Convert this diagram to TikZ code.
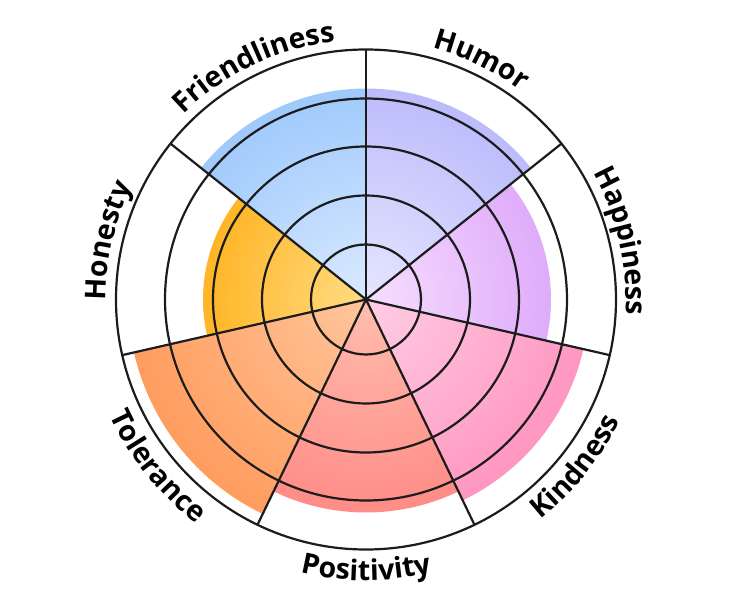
\documentclass[tikz,border=0pt]{standalone}
\usepackage{fontspec}
\setmainfont{Open Sans}
\usepackage{tikz}
\usetikzlibrary{decorations.text}
\usepackage{xcolor}

\definecolor{humorin}{HTML}{E6E6FF}
\definecolor{humorout}{HTML}{ABABFA}
\definecolor{friendin}{HTML}{DAEAFF}
\definecolor{friendout}{HTML}{88BCFB}
\definecolor{honestin}{HTML}{FFDC84}
\definecolor{honestout}{HTML}{FFA600}
\definecolor{tolerin}{HTML}{FFC69C}
\definecolor{tolerout}{HTML}{FF8C46}
\definecolor{positin}{HTML}{FFBEAE}
\definecolor{positout}{HTML}{FF7878}
\definecolor{kindin}{HTML}{FFCEE4}
\definecolor{kindout}{HTML}{FF80B2}
\definecolor{happyin}{HTML}{F7DEFF}
\definecolor{happyout}{HTML}{D598F8}
\definecolor{wheelline}{HTML}{1C1C1C}

\newcommand{\wheelfont}{\fontsize{28.5}{30}\selectfont\bfseries}

\begin{document}
\begin{tikzpicture}[x=1pt,y=1pt,
  ring/.style={wheelline, line width=2.2pt},
  spoke/.style={wheelline, line width=2.2pt},
  toplabel/.style={decorate, decoration={text along path, text align=center}},
]
\useasboundingbox (-366,-300.5) rectangle (366,299.5);

% sectors
\begin{scope}
\clip (0,0) -- (38.571:211) arc[start angle=38.571, end angle=90, radius=211] -- cycle;
\shade[inner color=humorin, outer color=humorout] (0,0) circle (295);
\end{scope}
\begin{scope}
\clip (0,0) -- (90:211) arc[start angle=90, end angle=141.429, radius=211] -- cycle;
\shade[inner color=friendin, outer color=friendout] (0,0) circle (295);
\end{scope}
\begin{scope}
\clip (0,0) -- (141.429:163) arc[start angle=141.429, end angle=192.857, radius=163] -- cycle;
\shade[inner color=honestin, outer color=honestout] (0,0) circle (228);
\end{scope}
\begin{scope}
\clip (0,0) -- (192.857:238) arc[start angle=192.857, end angle=244.286, radius=238] -- cycle;
\shade[inner color=tolerin, outer color=tolerout] (0,0) circle (333);
\end{scope}
\begin{scope}
\clip (0,0) -- (244.286:213) arc[start angle=244.286, end angle=295.714, radius=213] -- cycle;
\shade[inner color=positin, outer color=positout] (0,0) circle (298);
\end{scope}
\begin{scope}
\clip (0,0) -- (295.714:223) arc[start angle=295.714, end angle=347.143, radius=223] -- cycle;
\shade[inner color=kindin, outer color=kindout] (0,0) circle (312);
\end{scope}
\begin{scope}
\clip (0,0) -- (-12.857:185) arc[start angle=-12.857, end angle=38.571, radius=185] -- cycle;
\shade[inner color=happyin, outer color=happyout] (0,0) circle (259);
\end{scope}

% rings
\draw[ring] (0,0) circle (55);
\draw[ring] (0,0) circle (104);
\draw[ring] (0,0) circle (153);
\draw[ring] (0,0) circle (201);
\draw[ring] (0,0) circle (250);

% spokes
\draw[spoke] (0,0) -- (90:250);
\draw[spoke] (0,0) -- (38.571:250);
\draw[spoke] (0,0) -- (-12.857:250);
\draw[spoke] (0,0) -- (-64.286:250);
\draw[spoke] (0,0) -- (-115.714:250);
\draw[spoke] (0,0) -- (-167.143:250);
\draw[spoke] (0,0) -- (141.429:250);

% labels
\path[toplabel, decoration={text={|\wheelfont|Humor}}] (90:260) arc[start angle=90, end angle=38.571, radius=260];
\path[toplabel, decoration={text={|\wheelfont|Friendliness}}] (141.429:260) arc[start angle=141.429, end angle=90, radius=260];
\path[toplabel, decoration={text={|\wheelfont|Honesty}}] (192.857:260) arc[start angle=192.857, end angle=141.429, radius=260];
\path[toplabel, decoration={text={|\wheelfont|Happiness}}] (38.571:260) arc[start angle=38.571, end angle=-12.857, radius=260];
\path[toplabel, decoration={text={|\wheelfont|Kindness}}] (-64.286:281) arc[start angle=-64.286, end angle=-12.857, radius=281];
\path[toplabel, decoration={text={|\wheelfont|Positivity}}] (-115.714:281) arc[start angle=-115.714, end angle=-64.286, radius=281];
\path[toplabel, decoration={text={|\wheelfont|Tolerance}}] (-167.143:281) arc[start angle=-167.143, end angle=-115.714, radius=281];

\end{tikzpicture}
\end{document}
